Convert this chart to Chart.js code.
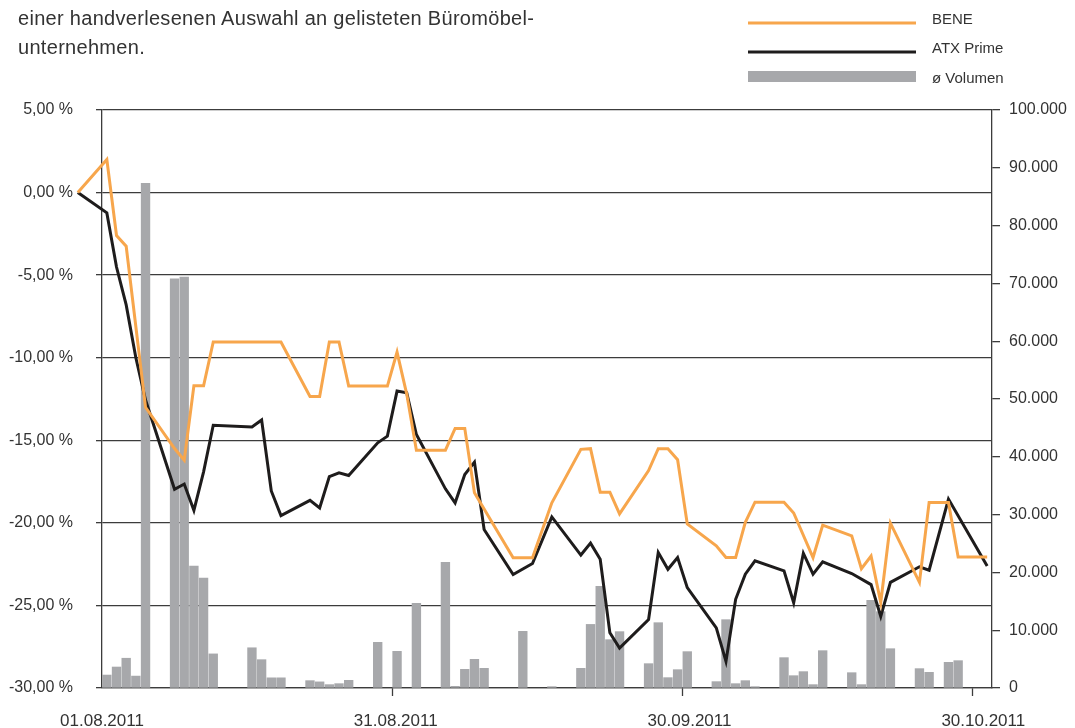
<!DOCTYPE html>
<html><head><meta charset="utf-8">
<script src="https://cdn.jsdelivr.net/npm/chart.js@4.4.1/dist/chart.umd.min.js"></script>
<style>
html,body{margin:0;padding:0;background:#fff;}
#wrap{position:relative;width:1075px;height:728px;overflow:hidden;}
canvas{position:absolute;left:0;top:0;}
#title{position:absolute;left:18px;top:4px;font:20px "Liberation Sans",Arial,sans-serif;letter-spacing:0.3px;color:#333;line-height:29px;white-space:nowrap;}
</style></head><body>
<div id="wrap"><canvas id="c" width="1075" height="728"></canvas>
<div id="title">einer handverlesenen Auswahl an gelisteten Büromöbel-<br>unternehmen.</div></div>
<script>
// ---- data (dates as DD.MM of 2011) ----
const seriesLabels = ['BENE', 'ATX Prime', 'ø Volumen'];
const xTickLabels = ['01.08.2011', '31.08.2011', '30.09.2011', '30.10.2011'];
const xMarkDates = ['31.08', '30.09', '30.10'];

const beneDates = ['29.07','01.08','02.08','03.08','05.08','08.08','09.08','10.08','11.08','12.08','19.08','22.08','23.08','24.08','25.08','26.08','30.08','31.08','01.09','02.09','05.09','06.09','07.09','08.09','12.09','14.09','16.09','19.09','20.09','21.09','22.09','23.09','26.09','27.09','28.09','29.09','30.09','03.10','04.10','05.10','06.10','07.10','10.10','11.10','13.10','14.10','17.10','18.10','19.10','20.10','21.10','24.10','25.10','27.10','28.10','31.10'];
const beneValues = [0,2.0,-2.6,-3.25,-13.0,-15.5,-16.2,-11.7,-11.7,-9.05,-9.05,-12.35,-12.35,-9.05,-9.05,-11.72,-11.72,-9.66,-12.2,-15.6,-15.6,-14.28,-14.28,-18.18,-22.12,-22.12,-18.79,-15.55,-15.51,-18.14,-18.14,-19.46,-16.83,-15.51,-15.51,-16.18,-20.07,-21.39,-22.1,-22.1,-19.97,-18.75,-18.75,-19.4,-22.1,-20.14,-20.79,-22.78,-22.01,-24.82,-20.02,-23.6,-18.76,-18.76,-22.07,-22.07];

const atxDates = ['29.07','01.08','02.08','03.08','04.08','05.08','08.08','09.08','10.08','11.08','12.08','16.08','17.08','18.08','19.08','22.08','23.08','24.08','25.08','26.08','29.08','30.08','31.08','01.09','02.09','05.09','06.09','07.09','08.09','09.09','12.09','13.09','14.09','16.09','19.09','20.09','21.09','22.09','23.09','26.09','27.09','28.09','29.09','30.09','03.10','04.10','05.10','06.10','07.10','10.10','11.10','12.10','13.10','14.10','17.10','19.10','20.10','21.10','24.10','25.10','27.10','31.10'];
const atxValues = [0,-1.23,-4.51,-6.8,-10.0,-12.56,-17.97,-17.65,-19.24,-16.91,-14.09,-14.19,-13.77,-18.07,-19.56,-18.64,-19.1,-17.2,-16.97,-17.13,-15.15,-14.75,-12.02,-12.12,-14.65,-17.94,-18.79,-17.07,-16.32,-20.4,-23.13,-22.79,-22.46,-19.64,-21.95,-21.23,-22.2,-26.66,-27.58,-25.85,-21.8,-22.81,-22.1,-23.92,-26.36,-28.39,-24.63,-23.11,-22.3,-22.91,-24.84,-21.84,-23.11,-22.36,-23.07,-23.74,-25.67,-23.6,-22.66,-22.87,-18.56,-22.62];

const volDates = ['01.08','02.08','03.08','04.08','05.08','08.08','09.08','10.08','11.08','12.08','16.08','17.08','18.08','19.08','22.08','23.08','24.08','25.08','26.08','29.08','31.08','02.09','05.09','06.09','07.09','08.09','09.09','13.09','16.09','19.09','20.09','21.09','22.09','23.09','26.09','27.09','28.09','29.09','30.09','03.10','04.10','05.10','06.10','07.10','10.10','11.10','12.10','13.10','14.10','17.10','18.10','19.10','20.10','21.10','24.10','25.10','27.10','28.10'];
const volValues = [2240,3630,5150,2060,87300,70800,71100,21100,19000,5900,6960,4900,1760,1760,1270,1060,580,750,1330,7900,6340,14650,21740,290,3230,4960,3400,9800,230,3400,11000,17600,8360,9750,4210,11300,1790,3170,6290,1100,11820,750,1270,230,5250,2130,2830,580,6460,2650,580,15150,13200,6800,3350,2710,4440,4730];

// ---- helpers ----
const toDay = s => { const [d, m] = s.split('.').map(Number); return Math.round((Date.UTC(2011, m - 1, d) - Date.UTC(2011, 6, 31)) / 864e5); };
const pts = (dates, vals) => dates.map((d, i) => ({ x: toDay(d), y: vals[i] }));

const ORANGE = '#f7a64c', BLACK = '#1e1c1c', GREY = '#a7a8ab', TXT = '#333333', GRID = '#3c3c3c';
const FONT = '"Liberation Sans", Arial, sans-serif';

const X_MIN = 0.5, X_MAX = 92.5;
const markTicks = xMarkDates.map(d => toDay(d) - 0.5);
const labelTicks = xTickLabels.map((t, i) => X_MIN + i * (X_MAX - X_MIN - 0.9) / (xTickLabels.length - 1));

const legendPlugin = {
  id: 'sideLegend',
  afterDraw(chart) {
    const ctx = chart.ctx; ctx.save();
    const rows = [23, 52, 77];
    const base = [23.5, 53, 82.5];
    chart.data.datasets.forEach((ds, i) => {
      if (ds.type === 'bar') { ctx.fillStyle = ds.backgroundColor; ctx.fillRect(748, rows[i] - 6, 168, 11); }
      else { ctx.strokeStyle = ds.borderColor; ctx.lineWidth = ds.borderWidth; ctx.beginPath(); ctx.moveTo(748, rows[i]); ctx.lineTo(916, rows[i]); ctx.stroke(); }
      ctx.fillStyle = TXT; ctx.font = '15px ' + FONT; ctx.textBaseline = 'alphabetic'; ctx.textAlign = 'left';
      ctx.fillText(ds.label, 932, base[i]);
    });
    ctx.restore();
  }
};

new Chart(document.getElementById('c'), {
  data: {
    datasets: [
      { type: 'line', label: seriesLabels[0], data: pts(beneDates, beneValues), borderColor: ORANGE, borderWidth: 3, pointRadius: 0, tension: 0, clip: false, yAxisID: 'y', order: 1, borderJoinStyle: 'miter' },
      { type: 'line', label: seriesLabels[1], data: pts(atxDates, atxValues), borderColor: BLACK, borderWidth: 3, pointRadius: 0, tension: 0, clip: false, yAxisID: 'y', order: 2, borderJoinStyle: 'miter' },
      { type: 'bar', label: seriesLabels[2], data: pts(volDates, volValues), backgroundColor: GREY, barThickness: 8.7, yAxisID: 'y1', order: 3 }
    ]
  },
  options: {
    responsive: false, animation: false, events: [],
    layout: { padding: { top: 110, left: 0, right: 0, bottom: 0 } },
    plugins: { legend: { display: false }, tooltip: { enabled: false } },
    scales: {
      x: {
        type: 'linear', min: X_MIN, max: X_MAX, offset: false,
        afterBuildTicks: s => { s.ticks = [...labelTicks.map(v => ({ value: v, kind: 'label' })), ...markTicks.map(v => ({ value: v, kind: 'mark' }))].sort((a, b) => a.value - b.value); },
        afterFit: s => { s.height = 40; },
        grid: { offset: false, drawOnChartArea: false, drawTicks: true, tickLength: 8, tickWidth: 1.3,
          tickColor: c => (c.tick && markTicks.includes(c.tick.value)) ? GRID : 'rgba(0,0,0,0)' },
        border: { display: true, color: GRID, width: 1.3 },
        ticks: { autoSkip: false, maxRotation: 0, padding: 15, color: TXT, font: { family: FONT, size: 17 },
          callback: function (v) { const k = labelTicks.indexOf(v); return k >= 0 ? xTickLabels[k] : ''; } }
      },
      y: {
        position: 'left', min: -30, max: 5,
        afterFit: s => { s.width = 102; },
        grid: { color: GRID, lineWidth: 1.3, tickLength: 6, drawTicks: true },
        border: { display: true, color: GRID, width: 1.3 },
        ticks: { stepSize: 5, padding: 23, color: TXT, font: { family: FONT, size: 16 },
          callback: v => v.toFixed(2).replace('.', ',') + ' %' }
      },
      y1: {
        position: 'right', min: 0, max: 100000,
        afterFit: s => { s.width = 83; },
        grid: { drawOnChartArea: false, tickLength: 8, color: GRID, lineWidth: 1.3 },
        border: { display: true, color: GRID, width: 1.3 },
        ticks: { stepSize: 10000, padding: 9, color: TXT, font: { family: FONT, size: 16 },
          callback: v => v.toLocaleString('de-DE') }
      }
    }
  },
  plugins: [legendPlugin]
});
</script>
</body></html>
